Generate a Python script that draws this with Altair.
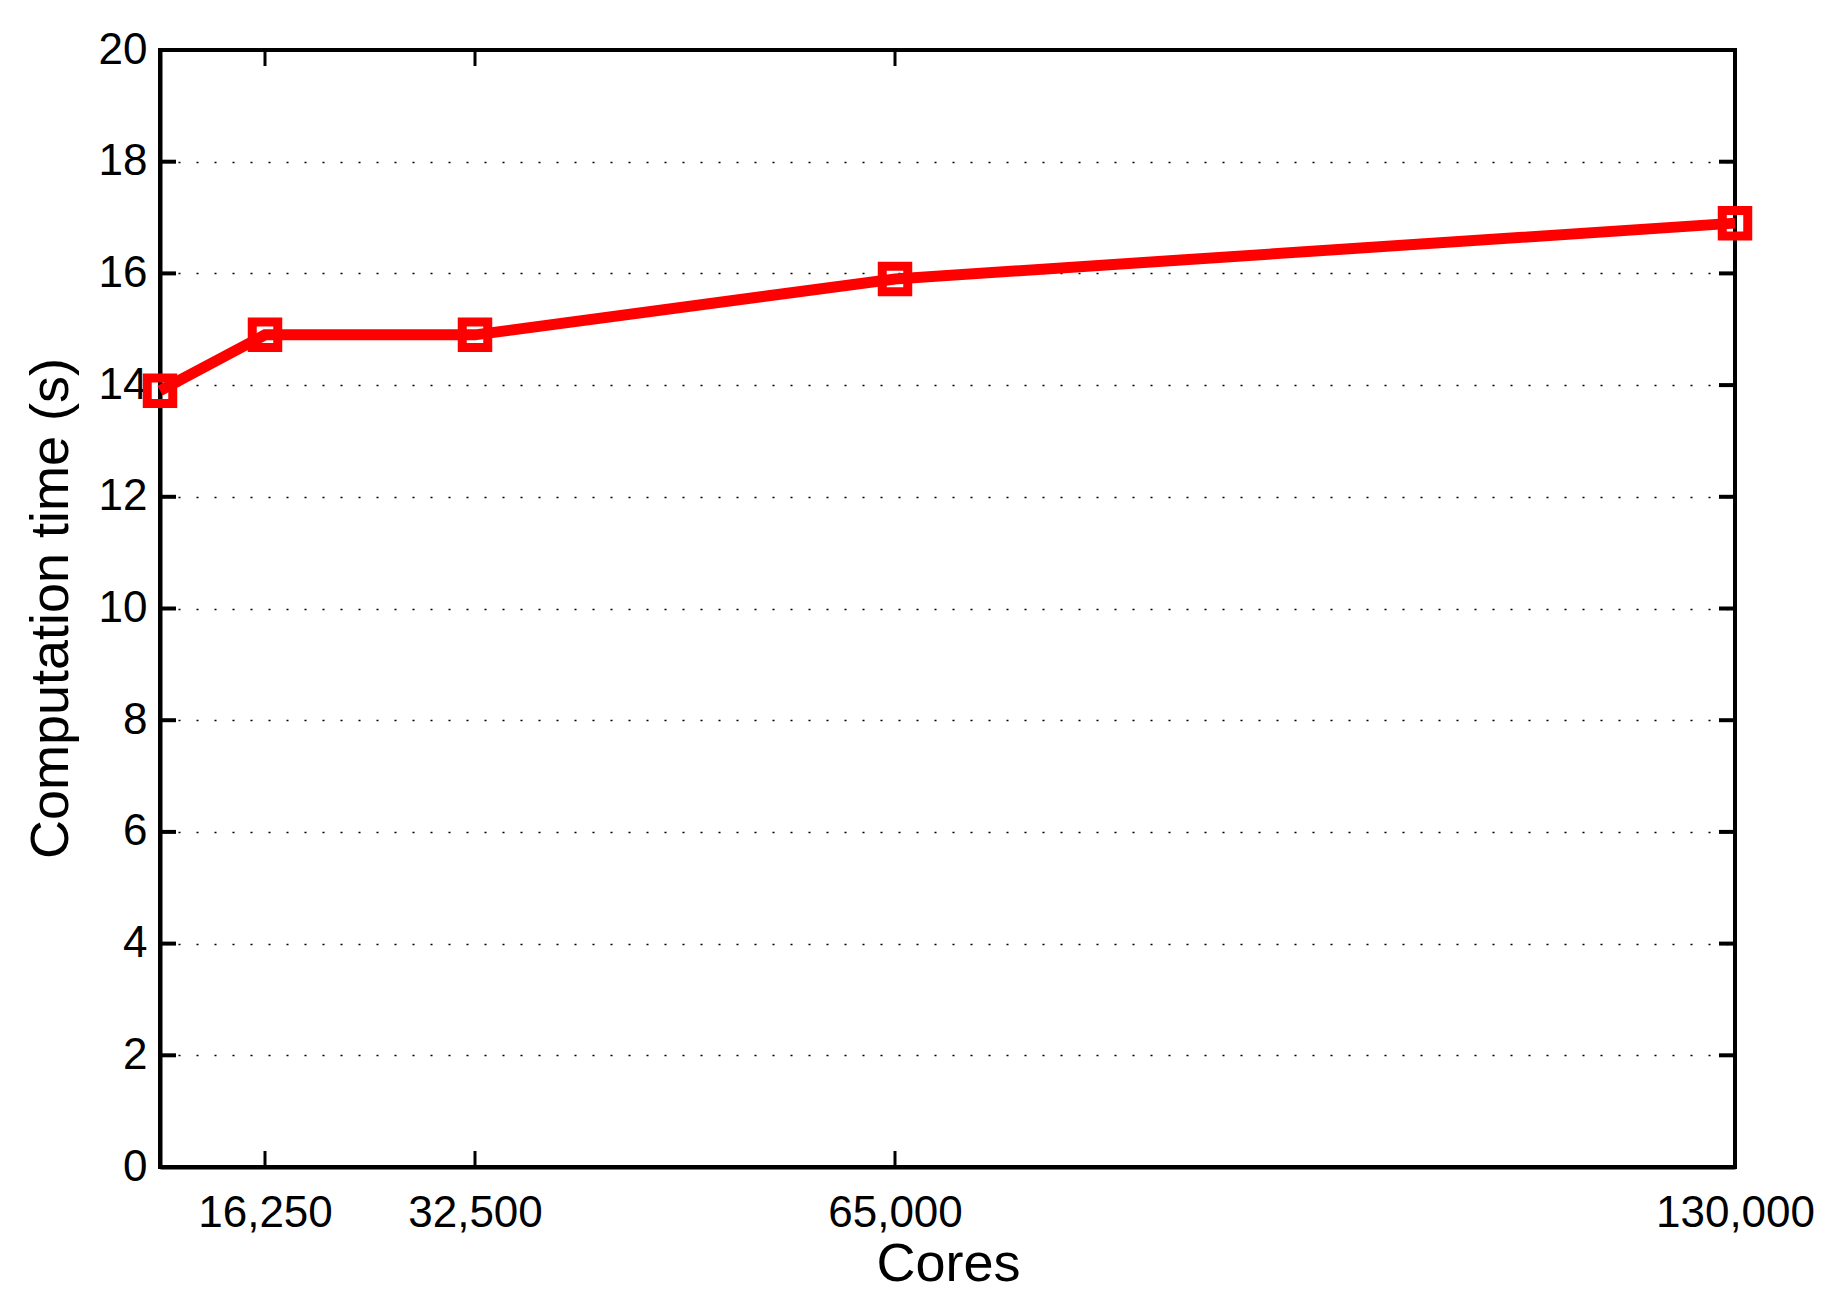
import altair as alt
import pandas as pd

cores = [8125, 16250, 32500, 65000, 130000]
times = [13.9, 14.9, 14.9, 15.9, 16.9]
x_ticks = [16250, 32500, 65000, 130000]
y_ticks = [0, 2, 4, 6, 8, 10, 12, 14, 16, 18, 20]

W, H = 1575, 1117
FONT = "Liberation Sans"

df = pd.DataFrame({"cores": cores, "time": times})
dfx = pd.DataFrame({"cores": x_ticks})
dfy = pd.DataFrame({"time": y_ticks})

xenc = alt.X(
    "cores:Q",
    scale=alt.Scale(domain=[8125, 130000], nice=False, zero=False),
    axis=alt.Axis(
        values=x_ticks, labelExpr="format(datum.value, ',')", grid=False,
        ticks=False, tickSize=0,
        labelPadding=24, labelFontSize=44, labelFont=FONT, labelColor="black",
        domainColor="black", domainWidth=4,
        title="Cores", titleFontSize=54, titleFont=FONT, titleFontWeight="normal",
        titleColor="black", titleX=788, titleY=113, titleBaseline="alphabetic",
        titleAlign="center", labelFlush=False,
    ),
)
yenc = alt.Y(
    "time:Q",
    scale=alt.Scale(domain=[0, 20], nice=False, zero=True),
    axis=alt.Axis(
        values=y_ticks, grid=True, gridColor="black", gridDash=[2, 16],
        gridWidth=1.6, gridOpacity=1, ticks=False, tickSize=0,
        labelPadding=13, labelFontSize=44, labelFont=FONT, labelColor="black",
        domainColor="black", domainWidth=4, labelFlush=False,
        title="Computation time (s)", titleFontSize=54, titleFont=FONT,
        titleFontWeight="normal", titleColor="black", titleX=-93, titleY=558,
        titleAngle=270, titleBaseline="alphabetic", titleAlign="center",
    ),
)

line = alt.Chart(df).mark_line(color="#ff0000", strokeWidth=11).encode(x=xenc, y=yenc)
pts = alt.Chart(df).mark_point(
    shape="square", filled=False, color="#ff0000", strokeWidth=9, size=650, opacity=1
).encode(x=xenc, y=yenc)

xt_bottom = alt.Chart(dfx).mark_rule(color="black", strokeWidth=3).encode(
    x=xenc, y=alt.value(H), y2=alt.value(H - 16)
)
xt_top = alt.Chart(dfx).mark_rule(color="black", strokeWidth=3).encode(
    x=xenc, y=alt.value(0), y2=alt.value(16)
)
yt_left = alt.Chart(dfy).mark_rule(color="black", strokeWidth=4).encode(
    y=yenc, x=alt.value(0), x2=alt.value(16)
)
yt_right = alt.Chart(dfy).mark_rule(color="black", strokeWidth=4).encode(
    y=yenc, x=alt.value(W - 16), x2=alt.value(W)
)

chart = alt.layer(yt_left, yt_right, xt_bottom, xt_top, line, pts).properties(
    width=W,
    height=H,
    autosize=alt.AutoSizeParams(type="none"),
    padding={"left": 152, "top": 42, "right": 91, "bottom": 125},
    background="white",
).configure_view(stroke="black", strokeWidth=4)

chart.save("out.html", embed_options={"renderer": "svg", "actions": False})
